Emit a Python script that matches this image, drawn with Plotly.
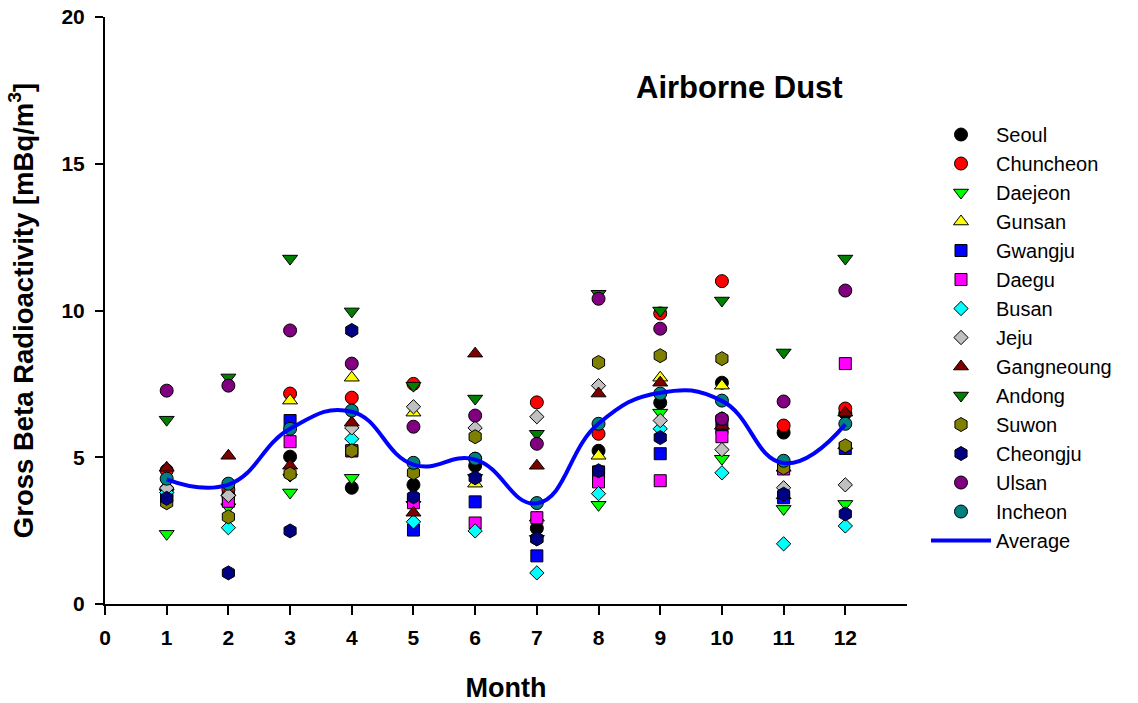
import plotly.graph_objects as go

# Monthly gross beta radioactivity in airborne dust (mBq/m3), by station
months = [1, 2, 3, 4, 5, 6, 7, 8, 9, 10, 11, 12]

seoul      = [3.90, 3.70, 5.02, 3.96, 4.06, 4.71, 2.58, 5.22, 6.86, 7.54, 5.84, 6.50]
chuncheon  = [4.55, 3.90, 7.17, 7.03, 7.50, 4.95, 6.87, 5.80, 9.90, 11.00, 6.08, 6.66]
daejeon    = [2.39, 3.30, 3.80, 4.30, 3.38, 4.30, 2.22, 3.38, 6.52, 4.95, 3.24, 3.41]
gunsan     = [4.00, 3.80, 6.93, 7.71, 6.52, 4.10, 2.94, 5.05, 7.71, 7.44, 3.70, 5.40]
gwangju    = [3.70, 3.60, 6.25, 5.22, 2.52, 3.48, 1.64, 4.50, 5.12, 6.00, 3.62, 5.30]
daegu      = [3.80, 3.50, 5.53, 5.22, 3.45, 2.76, 2.94, 4.16, 4.20, 5.70, 4.60, 8.19]
busan      = [3.80, 2.60, 4.40, 5.63, 2.80, 2.49, 1.06, 3.76, 5.97, 4.47, 2.05, 2.66]
jeju       = [3.95, 3.70, 4.40, 6.00, 6.72, 6.00, 6.38, 7.44, 6.25, 5.26, 3.96, 4.06]
gangneoung = [4.64, 5.05, 4.71, 6.18, 3.11, 8.53, 4.71, 7.17, 7.54, 6.07, 4.64, 6.52]
andong     = [6.28, 7.72, 11.77, 9.97, 7.44, 7.00, 5.80, 10.57, 10.00, 10.34, 8.57, 11.77]
suwon      = [3.45, 2.97, 4.43, 5.22, 4.47, 5.70, 2.22, 8.23, 8.46, 8.36, 4.64, 5.39]
cheongju   = [3.60, 1.06, 2.49, 9.32, 3.65, 4.30, 2.22, 4.54, 5.67, 6.31, 3.74, 3.07]
ulsan      = [7.27, 7.44, 9.32, 8.19, 6.04, 6.42, 5.46, 10.40, 9.38, 6.31, 6.90, 10.68]
incheon    = [4.27, 4.10, 5.97, 6.59, 4.81, 4.95, 3.44, 6.14, 7.17, 6.93, 4.88, 6.14]

average    = [4.25, 4.07, 5.97, 6.55, 4.75, 4.92, 3.43, 6.15, 7.20, 6.92, 4.80, 6.12]

x_ticks = [0, 1, 2, 3, 4, 5, 6, 7, 8, 9, 10, 11, 12]
y_ticks = [0, 5, 10, 15, 20]

stations = [
    ("Seoul", seoul, "circle", "#000000", 13),
    ("Chuncheon", chuncheon, "circle", "#FF0000", 13),
    ("Daejeon", daejeon, "triangle-down", "#00FF00", 13),
    ("Gunsan", gunsan, "triangle-up", "#FFFF00", 13),
    ("Gwangju", gwangju, "square", "#0000FF", 12),
    ("Daegu", daegu, "square", "#FF00FF", 12),
    ("Busan", busan, "diamond", "#00FFFF", 11),
    ("Jeju", jeju, "diamond", "#C0C0C0", 11),
    ("Gangneoung", gangneoung, "triangle-up", "#800000", 13),
    ("Andong", andong, "triangle-down", "#008000", 13),
    ("Suwon", suwon, "hexagon", "#808000", 14),
    ("Cheongju", cheongju, "hexagon", "#000080", 14),
    ("Ulsan", ulsan, "circle", "#800080", 13),
    ("Incheon", incheon, "circle", "#008080", 13),
]

fig = go.Figure()
for name, vals, sym, col, size in stations:
    fig.add_trace(go.Scatter(
        x=months, y=vals, name=name, mode="markers",
        marker=dict(symbol=sym, color=col, size=size,
                    line=dict(color="#000000", width=1)),
    ))

fig.add_trace(go.Scatter(
    x=months, y=average, name="Average", mode="lines",
    line=dict(color="#0000FF", width=4, shape="spline", smoothing=1.3),
))

FONT = "Liberation Sans, Arial, sans-serif"
axis_font = dict(family=FONT, size=21, color="#000000", weight="bold")

fig.update_layout(
    width=1138, height=703,
    margin=dict(l=105, r=231, t=17, b=99, autoexpand=False),
    paper_bgcolor="#FFFFFF", plot_bgcolor="#FFFFFF",
    font=dict(family=FONT, color="#000000"),
    showlegend=True,
    legend=dict(
        x=1.0237, xanchor="left", y=0.833, yanchor="top",
        font=dict(size=20, family=FONT),
        itemwidth=60, bgcolor="rgba(0,0,0,0)", borderwidth=0,
    ),
    xaxis=dict(
        range=[0, 13], tickvals=x_ticks, ticktext=[str(v) for v in x_ticks],
        showgrid=False, zeroline=False, showline=True, linecolor="#000000",
        linewidth=2, ticks="outside", ticklen=9, tickwidth=2, tickcolor="#000000",
        tickfont=axis_font, ticklabelstandoff=5,
        title=dict(text="<b>Month</b>", standoff=32,
                   font=dict(size=27, family=FONT)),
    ),
    yaxis=dict(
        range=[0, 20], tickvals=y_ticks,
        showgrid=False, zeroline=False, showline=True, linecolor="#000000",
        linewidth=2, ticks="outside", ticklen=8, tickwidth=2, tickcolor="#000000",
        tickfont=axis_font, ticklabelstandoff=6,
        title=dict(text="<b>Gross Beta Radioactivity [mBq/m<sup>3</sup>]</b>", standoff=20,
                   font=dict(size=27.5, family=FONT)),
    ),
    annotations=[dict(
        text="<b>Airborne Dust</b>", x=10.28, y=17.6, xref="x", yref="y",
        showarrow=False, xanchor="center", yanchor="middle",
        font=dict(size=31, family=FONT, color="#000000"),
    )],
)

fig.write_html("out.html")
